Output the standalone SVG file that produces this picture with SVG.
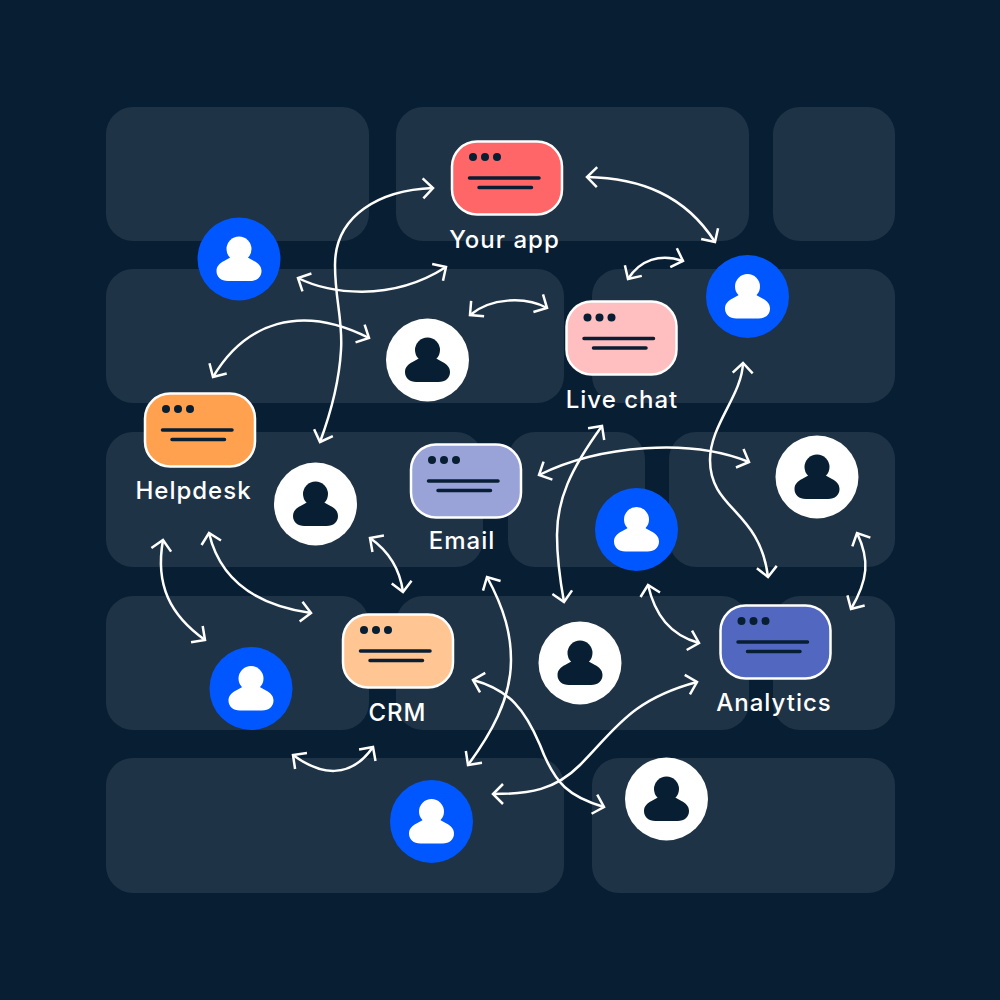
<svg xmlns="http://www.w3.org/2000/svg" width="1000" height="1000" viewBox="0 0 1000 1000">
<style>
.panel{fill:#1f3346}
.conn path{fill:none;stroke:#fff;stroke-width:2.5;marker-start:url(#arrow);marker-end:url(#arrow)}
.win{stroke:#fff;stroke-width:2.5}
.dot{fill:#081e32}
.ln{stroke:#081e32;stroke-width:3.5;stroke-linecap:round;fill:none}
.label{font-family:"Inter","Noto Sans",sans-serif;font-size:24px;font-weight:500;fill:#fff;text-anchor:middle;letter-spacing:1px}
</style>
<defs>
<marker id="arrow" markerUnits="userSpaceOnUse" markerWidth="26" markerHeight="26" refX="13" refY="13" orient="auto-start-reverse" overflow="visible">
<path d="M3 3L13 13L3 23" fill="none" stroke="#fff" stroke-width="2.5"/>
</marker>
<g id="person">
<circle cx="0" cy="-10" r="12.5"/>
<path d="M-11 22H11C18 22 22.5 18 22.5 12C22.5 7 19 4 15 2L6-3H-6L-15 2C-19 4-22.5 7-22.5 12C-22.5 18-18 22-11 22Z"/>
</g>
<g id="winbody">
<circle class="dot" cx="21" cy="16" r="4"/>
<circle class="dot" cx="33" cy="16" r="4"/>
<circle class="dot" cx="45" cy="16" r="4"/>
<path class="ln" d="M17.500 37H87M27 46.500H79.500"/>
</g>
</defs>
<rect width="1000" height="1000" fill="#081e32"/>
<g id="panels">
<rect class="panel" x="106" y="107" width="263" height="134" rx="27"/>
<rect class="panel" x="396" y="107" width="353" height="134" rx="27"/>
<rect class="panel" x="773" y="107" width="122" height="134" rx="27"/>
<rect class="panel" x="106" y="269" width="458" height="134" rx="27"/>
<rect class="panel" x="592" y="269" width="303" height="134" rx="27"/>
<rect class="panel" x="106" y="432" width="377" height="135" rx="27"/>
<rect class="panel" x="508" y="432" width="137" height="135" rx="27"/>
<rect class="panel" x="669" y="432" width="226" height="135" rx="27"/>
<rect class="panel" x="106" y="596" width="263" height="134" rx="27"/>
<rect class="panel" x="396" y="596" width="353" height="134" rx="27"/>
<rect class="panel" x="773" y="596" width="122" height="134" rx="27"/>
<rect class="panel" x="106" y="758" width="458" height="135" rx="27"/>
<rect class="panel" x="592" y="758" width="303" height="135" rx="27"/>
</g>
<g id="connectors" class="conn">
<path d="M433 188C380 190 335 215 335 265C335 300 343 320 341 350C339 385 330 415 320 442"/>
<path d="M298 278C328 293 390 303 446 267"/>
<path d="M213 377C245 323 300 303 369 338"/>
<path d="M470 315C490 298 525 296 547 308"/>
<path d="M587 177C640 178 685 195 715 242"/>
<path d="M628 279C640 260 660 253 683 261"/>
<path d="M743 363C742 395 710 425 710 460C710 510 760 510 768 577"/>
<path d="M539 475C600 445 690 438 749 462"/>
<path d="M602 426C570 470 557 500 557 535C557 560 560 580 564 602"/>
<path d="M857 533C870 560 868 580 851 609"/>
<path d="M648 585C655 615 670 635 699 643"/>
<path d="M493 794C530 794 555 790 580 765C615 730 630 700 697 682"/>
<path d="M473 680C510 690 525 710 540 745C555 785 570 797 604 807"/>
<path d="M487 577C505 610 511 635 511 660C511 700 490 735 468 765"/>
<path d="M293 755C320 775 350 780 373 747"/>
<path d="M370 538C390 552 400 570 403 592"/>
<path d="M209 533C220 580 255 605 311 613"/>
<path d="M163 540C155 585 170 615 205 640"/>
</g>
<g id="user-1"><circle cx="239" cy="259" r="41.500" fill="#0057ff"/><use href="#person" x="239" y="259" fill="#fff"/></g>
<g id="user-2"><circle cx="747.500" cy="296.500" r="41.500" fill="#0057ff"/><use href="#person" x="747.500" y="296.500" fill="#fff"/></g>
<g id="user-3"><circle cx="636.500" cy="529.500" r="41.500" fill="#0057ff"/><use href="#person" x="636.500" y="529.500" fill="#fff"/></g>
<g id="user-4"><circle cx="251" cy="688.500" r="41.500" fill="#0057ff"/><use href="#person" x="251" y="688.500" fill="#fff"/></g>
<g id="user-5"><circle cx="431.500" cy="821.500" r="41.500" fill="#0057ff"/><use href="#person" x="431.500" y="821.500" fill="#fff"/></g>
<g id="user-6"><circle cx="427.500" cy="360" r="41.500" fill="#fff"/><use href="#person" x="427.500" y="360" fill="#081e32"/></g>
<g id="user-7"><circle cx="315.500" cy="504" r="41.500" fill="#fff"/><use href="#person" x="315.500" y="504" fill="#081e32"/></g>
<g id="user-8"><circle cx="817" cy="477" r="41.500" fill="#fff"/><use href="#person" x="817" y="477" fill="#081e32"/></g>
<g id="user-9"><circle cx="580" cy="663" r="41.500" fill="#fff"/><use href="#person" x="580" y="663" fill="#081e32"/></g>
<g id="user-10"><circle cx="666.500" cy="799" r="41.500" fill="#fff"/><use href="#person" x="666.500" y="799" fill="#081e32"/></g>
<g id="your-app"><rect class="win" x="452" y="141.500" width="110" height="73" rx="25" fill="#ff6668"/><use href="#winbody" x="452" y="141"/><text class="label" x="504.500" y="248">Your app</text></g>
<g id="live-chat"><rect class="win" x="566.500" y="301.500" width="110" height="73" rx="25" fill="#ffbfc0"/><use href="#winbody" x="566.500" y="301.500"/><text class="label" x="622" y="408">Live chat</text></g>
<g id="helpdesk"><rect class="win" x="145" y="393.500" width="110" height="73" rx="25" fill="#ffa14f"/><use href="#winbody" x="145" y="393"/><text class="label" x="193.500" y="499">Helpdesk</text></g>
<g id="email"><rect class="win" x="411" y="444.500" width="110" height="73" rx="25" fill="#99a3d8"/><use href="#winbody" x="411" y="444"/><text class="label" x="462" y="549">Email</text></g>
<g id="crm"><rect class="win" x="343" y="614.500" width="110" height="73" rx="25" fill="#ffc592"/><use href="#winbody" x="343" y="614"/><text class="label" x="397.500" y="721">CRM</text></g>
<g id="analytics"><rect class="win" x="720.500" y="605.500" width="110" height="73" rx="25" fill="#5268c0"/><use href="#winbody" x="720.500" y="605"/><text class="label" x="774" y="711">Analytics</text></g>
</svg>
